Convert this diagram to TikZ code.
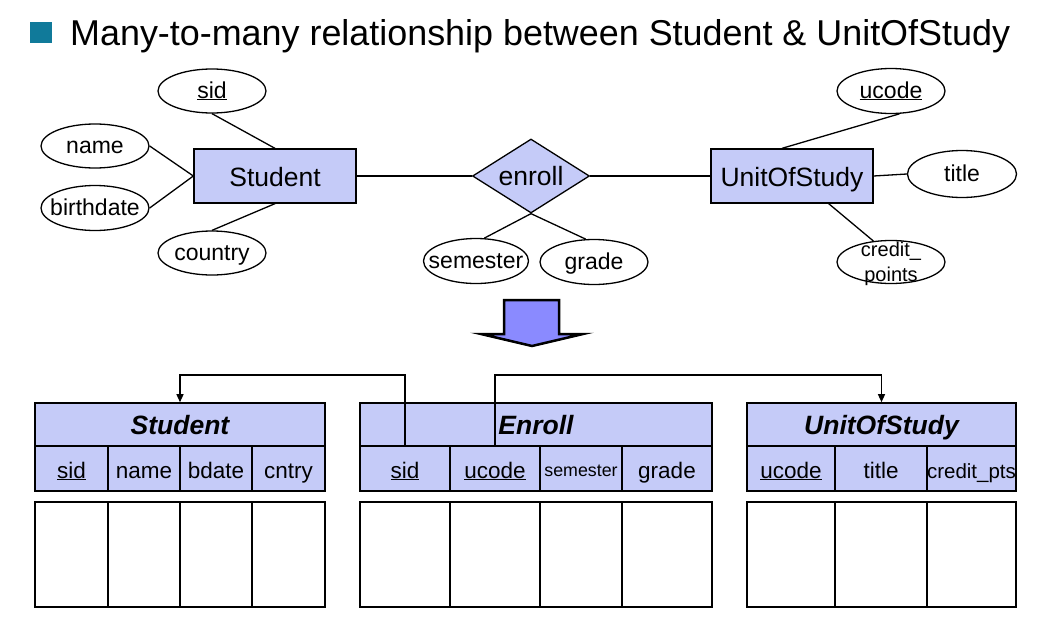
\documentclass[tikz,border=0pt]{standalone}
\usepackage{fontspec}
\setmainfont{Liberation Sans}
\usetikzlibrary{shapes.geometric,arrows.meta,calc}
\definecolor{erfill}{RGB}{197,203,248}
\definecolor{arrowfill}{RGB}{138,138,255}
\definecolor{bulletc}{RGB}{16,122,154}
\begin{document}
\begin{tikzpicture}[x=1pt,y=-1pt,
 ent/.style={draw, line width=1.3pt, fill=erfill, minimum width=162pt, minimum height=54pt, inner sep=0pt, text height=21pt, text depth=0pt, font=\fontsize{26.5}{30}\selectfont},
 attr/.style={draw, ellipse, line width=1.3pt, fill=white, inner sep=0pt, minimum width=108pt, minimum height=44pt, text height=16pt, text depth=2pt, font=\fontsize{23}{26}\selectfont},
 rel/.style={draw, diamond, line width=1.3pt, fill=erfill, aspect=1.58, minimum width=117pt, minimum height=74pt, inner sep=0pt, text height=18pt, text depth=0pt, font=\fontsize{26.5}{30}\selectfont},
 link/.style={line width=1.3pt},
 thead/.style={draw, line width=1.6pt, fill=erfill, inner sep=0pt, minimum height=43pt, text height=22pt, text depth=3pt, font=\fontsize{26.5}{30}\selectfont\bfseries\itshape},
 tcell/.style={draw, line width=1.6pt, fill=erfill, inner sep=0pt, minimum height=45pt, text height=22pt, text depth=3pt, font=\fontsize{22.5}{26}\selectfont},
 dcell/.style={draw, line width=1.6pt, fill=white, inner sep=0pt, minimum height=105pt},
 fk/.style={line width=1.3pt, -{Triangle[width=7pt,length=8pt]}},
]
\useasboundingbox (0,0) rectangle (1053,624);

% heading
\node[fill=bulletc, minimum width=22pt, minimum height=21pt, inner sep=0pt] (bullet) at (41,32.5) {};
\node[anchor=base west, font=\fontsize{35.9}{40}\selectfont, inner sep=0pt] (heading) at (70,45) {Many-to-many relationship between Student \& UnitOfStudy};

% ER diagram
\node[ent] (student) at (275,176) {Student};
\node[rel] (enroll) at (531,176) {enroll};
\node[ent] (uos) at (792,176) {UnitOfStudy};

\node[attr] (sid) at (212,91) {\makebox[0pt]{\underline{sid}}};
\node[attr] (name) at (95,146) {\makebox[0pt]{name}};
\node[attr, minimum height=45pt] (birthdate) at (95,208) {\makebox[0pt]{birthdate}};
\node[attr] (country) at (212,253) {\makebox[0pt]{country}};
\node[attr, minimum width=105pt, minimum height=45pt] (semester) at (476,261) {\makebox[0pt]{semester}};
\node[attr, minimum height=45pt] (grade) at (594,262) {\makebox[0pt]{grade}};
\node[attr, minimum height=45pt] (ucode) at (891,91) {\makebox[0pt]{\underline{ucode}}};
\node[attr, minimum width=109pt, minimum height=47pt] (atitle) at (962,174) {\makebox[0pt]{title}};
\node[attr, minimum height=43pt] (credit) at (891,262) {};
\node[align=center, inner sep=0pt, font=\fontsize{20}{25}\selectfont] (creditT) at (891,264) {credit\_\\points};

\draw[link] (sid.south) -- (student.north);
\draw[link] (name.east) -- (student.west);
\draw[link] (birthdate.east) -- (student.west);
\draw[link] (country.north) -- (student.south);
\draw[link] (student.east) -- (enroll.west);
\draw[link] (enroll.east) -- (uos.west);
\draw[link] (enroll.south) -- (semester.70);
\draw[link] (enroll.south) -- (grade.110);
\draw[link] (uos.110) -- (ucode.-70);
\draw[link] (uos.east) -- (atitle.west);
\draw[link] (uos.-37) -- (credit.130);

% block arrow
\draw[line width=2.5pt, fill=arrowfill, line join=miter] (504,300) -- (559,300) -- (559,334) -- (583,334) -- (532,346) -- (481,334) -- (504,334) -- cycle;

% relational tables
\node[thead, minimum width=290pt] (shead) at (180,424.5) {Student};
\node[tcell, minimum width=73pt] (ssid) at (71.5,468.5) {\underline{sid}};
\node[tcell, minimum width=72pt] (sname) at (144,468.5) {name};
\node[tcell, minimum width=72pt] (sbdate) at (216,468.5) {bdate};
\node[tcell, minimum width=73pt] (scntry) at (288.5,468.5) {cntry};
\node[dcell, minimum width=73pt] (sd1) at (71.5,554.5) {};
\node[dcell, minimum width=72pt] (sd2) at (144,554.5) {};
\node[dcell, minimum width=72pt] (sd3) at (216,554.5) {};
\node[dcell, minimum width=73pt] (sd4) at (288.5,554.5) {};

\node[thead, minimum width=352pt] (ehead) at (536,424.5) {Enroll};
\node[tcell, minimum width=90pt] (esid) at (405,468.5) {\underline{sid}};
\node[tcell, minimum width=90pt] (eucode) at (495,468.5) {\underline{ucode}};
\node[tcell, minimum width=82pt, font=\fontsize{17.8}{20}\selectfont, text height=19pt, text depth=3pt] (esem) at (581,468.5) {semester};
\node[tcell, minimum width=90pt] (egrade) at (667,468.5) {grade};
\node[dcell, minimum width=90pt] (ed1) at (405,554.5) {};
\node[dcell, minimum width=90pt] (ed2) at (495,554.5) {};
\node[dcell, minimum width=82pt] (ed3) at (581,554.5) {};
\node[dcell, minimum width=90pt] (ed4) at (667,554.5) {};

\node[thead, minimum width=269pt] (uhead) at (881.5,424.5) {UnitOfStudy};
\node[tcell, minimum width=88pt] (uucode) at (791,468.5) {\underline{ucode}};
\node[tcell, minimum width=92pt] (utitle) at (881,468.5) {title};
\node[tcell, minimum width=89pt, font=\fontsize{20.5}{23}\selectfont] (ucred) at (971.5,468.5) {credit\_pts};
\node[dcell, minimum width=88pt] (ud1) at (791,554.5) {};
\node[dcell, minimum width=92pt] (ud2) at (881,554.5) {};
\node[dcell, minimum width=89pt] (ud3) at (971.5,554.5) {};

% foreign keys
\coordinate (rail) at (0,375);
\draw[fk] (esid.north) -- (esid.north |- rail) -| (shead.north);
\draw[fk] (eucode.north) -- (eucode.north |- rail) -| (uhead.north);
\end{tikzpicture}
\end{document}
